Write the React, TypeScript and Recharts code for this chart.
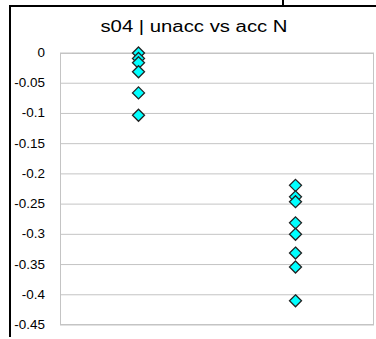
import { ScatterChart, Scatter, XAxis, YAxis, CartesianGrid } from 'recharts';

// categories along x (unlabelled in the original) and the values in each
const CATEGORIES = ['unacc', 'acc'];
const UNACC = [0, -0.009, -0.016, -0.031, -0.066, -0.103];
const ACC = [-0.219, -0.238, -0.246, -0.281, -0.3, -0.331, -0.354, -0.41];
const Y_TICKS = [0, -0.05, -0.1, -0.15, -0.2, -0.25, -0.3, -0.35, -0.4, -0.45];
const TITLE = 's04 | unacc vs acc N';

const W = 376;
const H = 339;
const PLOT_TOP = 53;
const PLOT_LEFT = 60;
const PLOT_RIGHT = 2;
const PLOT_BOTTOM = 14;
const GRID = '#c4c4c4';
const FONT = '"Liberation Sans", Arial, sans-serif';

const points = [UNACC, ACC].flatMap((vals, i) =>
  vals.map((v) => ({ x: i + 0.5, y: v, cat: CATEGORIES[i] })),
);

const fmt = (v: number) => (v === 0 ? '0' : String(+v.toFixed(2)));

function YTick({ x, y, payload }: any) {
  return (
    <text
      transform={`translate(${x - 13},${y + 4}) scale(1.12,1)`}
      textAnchor="end"
      fontFamily={FONT}
      fontSize={12}
      fill="#000"
    >
      {fmt(payload.value)}
    </text>
  );
}

// category divider tick, hanging down from the top axis line
function XTick({ x }: any) {
  return <line x1={x} x2={x} y1={PLOT_TOP} y2={PLOT_TOP + 9} stroke="#b0b0b0" strokeWidth={2} />;
}

function Diamond({ cx, cy }: any) {
  const r = 6;
  return (
    <polygon
      points={`${cx},${cy - r} ${cx + r},${cy} ${cx},${cy + r} ${cx - r},${cy}`}
      fill="#00ffff"
      stroke="#222"
      strokeWidth={1.3}
    />
  );
}

export default function App() {
  return (
    <div style={{ position: 'fixed', left: 0, top: 0, width: W, height: H, background: '#fff', overflow: 'hidden' }}>
      {/* outer frame bits (clipped chart object) */}
      <div style={{ position: 'absolute', left: 9, top: 5, width: W - 9, height: 2, background: '#000' }} />
      <div style={{ position: 'absolute', left: 9, top: 5, width: 2, height: 332, background: '#000' }} />
      <div style={{ position: 'absolute', left: 282, top: 0, width: 2, height: 6, background: '#000' }} />

      {/* plot area border */}
      <div
        style={{
          position: 'absolute',
          left: PLOT_LEFT,
          top: PLOT_TOP,
          width: W - PLOT_LEFT - PLOT_RIGHT,
          height: H - PLOT_TOP - PLOT_BOTTOM,
          border: `1px solid ${GRID}`,
          boxSizing: 'border-box',
        }}
      />

      <div
        style={{
          position: 'absolute',
          left: 0,
          width: 388,
          top: 17,
          textAlign: 'center',
          fontFamily: FONT,
          fontSize: 16,
          lineHeight: '20px',
          transform: 'scaleX(1.27)',
          transformOrigin: '194px 0',
          whiteSpace: 'nowrap',
        }}
      >
        {TITLE}
      </div>

      <ScatterChart
        width={W}
        height={H}
        margin={{ top: PLOT_TOP, right: PLOT_RIGHT, left: 0, bottom: PLOT_BOTTOM }}
        style={{ position: 'absolute', left: 0, top: 0 }}
      >
        <CartesianGrid horizontal vertical={false} stroke={GRID} />
        <XAxis
          type="number"
          dataKey="x"
          domain={[0, CATEGORIES.length]}
          ticks={[1]}
          orientation="top"
          height={0}
          axisLine={false}
          tickLine={false}
          tick={<XTick />}
        />
        <YAxis
          type="number"
          dataKey="y"
          domain={[-0.45, 0]}
          ticks={Y_TICKS}
          width={PLOT_LEFT}
          axisLine={false}
          tickLine={false}
          tickSize={0}
          tick={<YTick />}
          interval={0}
        />
        <Scatter data={points} shape={<Diamond />} isAnimationActive={false} />
      </ScatterChart>
    </div>
  );
}
